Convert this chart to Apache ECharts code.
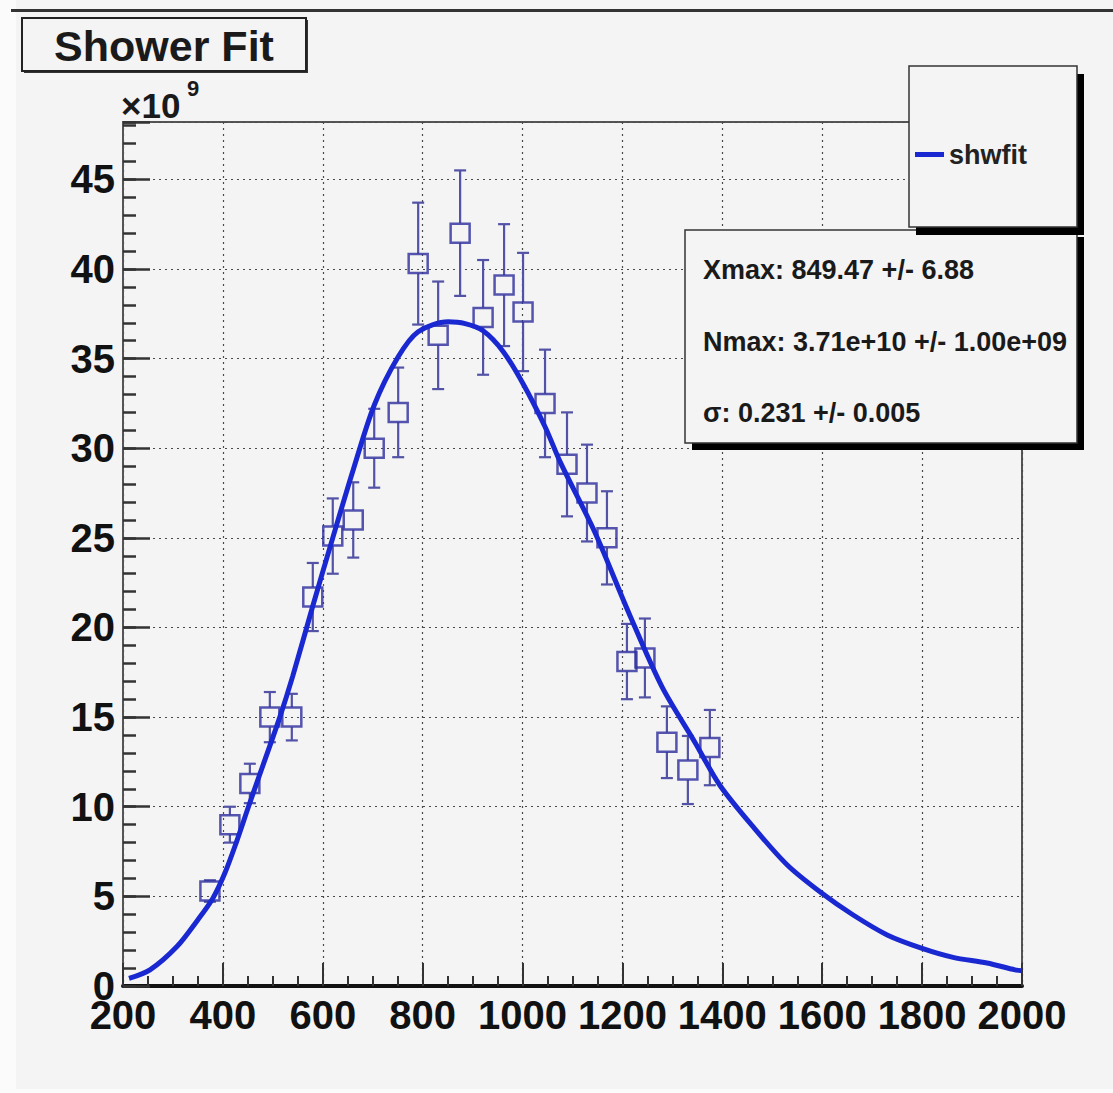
<!DOCTYPE html>
<html><head><meta charset="utf-8">
<script src="https://cdn.jsdelivr.net/npm/echarts@6/dist/echarts.min.js"></script>
<style>html,body{margin:0;padding:0;background:#fbfbfb;}#c{width:1113px;height:1093px;}</style>
</head><body><div id="c"></div>
<script>
// ---- data ----
const obsX   = [374, 414, 454, 494, 538, 580, 620, 661, 703, 751, 791, 831, 875, 921, 963, 1001, 1045, 1089, 1129, 1169, 1209, 1245, 1289, 1331, 1375];
const obsY   = [5.3, 9.0, 11.3, 15.0, 15.0, 21.7, 25.1, 26.0, 30.0, 32.0, 40.3, 36.3, 42.0, 37.3, 39.1, 37.6, 32.5, 29.1, 27.5, 25.0, 18.1, 18.3, 13.6, 12.05, 13.3];
const obsErr = [0.6, 1.0, 1.1, 1.4, 1.3, 1.9, 2.1, 2.1, 2.2, 2.5, 3.4, 3.0, 3.5, 3.2, 3.4, 3.3, 3.0, 2.9, 2.7, 2.6, 2.1, 2.2, 2.0, 1.9, 2.1];
const fitX = [212, 254, 308, 350, 380, 404, 428, 450, 470, 514, 540, 580, 620, 661, 703, 751, 791, 851, 885, 921, 961, 1001, 1045, 1076, 1145, 1213, 1279, 1345, 1395, 1461, 1530, 1598, 1662, 1730, 1800, 1862, 1930, 1986, 2000];
const fitY = [0.42, 0.9, 2.2, 3.7, 4.9, 6.3, 8.1, 9.9, 11.5, 15.0, 17.3, 21.2, 25.0, 28.8, 32.4, 35.1, 36.5, 37.05, 36.95, 36.55, 35.4, 33.6, 31.2, 29.2, 25.3, 20.8, 16.7, 13.6, 11.2, 8.9, 6.75, 5.2, 3.96, 2.85, 2.1, 1.6, 1.28, 0.9, 0.85];
const xTickValues = [200, 400, 600, 800, 1000, 1200, 1400, 1600, 1800, 2000];
const yTickValues = [0, 5, 10, 15, 20, 25, 30, 35, 40, 45];
const titleText = 'Shower Fit';
const fitName = 'shwfit';
const statsLines = ['Xmax: 849.47 +/- 6.88', 'Nmax: 3.71e+10 +/- 1.00e+09', 'σ: 0.231 +/- 0.005'];
const yScaleText = '×10';
const yScaleExp = '9';

// ---- chart ----
const FONT = "'Liberation Sans', Arial, Helvetica, sans-serif";
const BG = '#f4f4f4';
const chart = echarts.init(document.getElementById('c'), null, {renderer: 'svg'});
const pts = obsX.map((x, i) => [x, obsY[i], obsErr[i]]);
const fit = fitX.map((x, i) => [x, fitY[i]]);

function txt(x, y, text, font, align, valign, fill) {
  return {type: 'text', x: x, y: y, z: 120, silent: true,
    style: {text: text, font: font, fill: fill || '#1a1a1a',
      textAlign: align, textVerticalAlign: valign, align: align, verticalAlign: valign}};
}
function rect(x, y, w, h, fill, stroke, lw, z) {
  return {type: 'rect', z: z, silent: true, shape: {x: x, y: y, width: w, height: h},
    style: {fill: fill, stroke: stroke || null, lineWidth: lw || 0}};
}

const option = {
  backgroundColor: BG,
  animation: false,
  grid: {left: 123, right: 91, top: 122, bottom: 107, show: true, borderColor: '#555', borderWidth: 2, backgroundColor: 'transparent'},
  xAxis: {
    type: 'value', min: 200, max: 2000, interval: 200,
    axisLine: {onZero: false, lineStyle: {color: '#111', width: 4}},
    axisTick: {inside: true, length: 23, lineStyle: {color: '#333', width: 2}},
    minorTick: {show: true, splitNumber: 4, length: 10, lineStyle: {color: '#333', width: 2}},
    axisLabel: {fontSize: 40, fontWeight: 'bold', color: '#111', fontFamily: FONT, margin: 9,
      formatter: v => xTickValues.indexOf(v) >= 0 ? String(v) : ''},
    splitLine: {show: true, lineStyle: {color: '#4a4a4a', type: [2, 4], width: 1.2}}
  },
  yAxis: [{
    type: 'value', min: 0, max: 48.2, interval: 5,
    axisLine: {lineStyle: {color: '#555', width: 2}},
    axisTick: {inside: true, length: 27, lineStyle: {color: '#333', width: 2.5}},
    axisLabel: {fontSize: 40, fontWeight: 'bold', color: '#111', fontFamily: FONT, margin: 8, padding: [18, 0, 0, 0],
      formatter: v => yTickValues.indexOf(v) >= 0 ? String(v) : ''},
    splitLine: {show: true, lineStyle: {color: '#4a4a4a', type: [2, 4], width: 1.2}}
  }, {
    type: 'value', min: 0, max: 48.2, interval: 1, position: 'left',
    axisLine: {show: false},
    axisTick: {inside: true, length: 13, lineStyle: {color: '#333', width: 2.5}},
    axisLabel: {show: false}, splitLine: {show: false}
  }],
  legend: {
    data: [{name: fitName, icon: 'rect'}], left: 910, top: 136, itemWidth: 29, itemHeight: 5, itemGap: 0,
    selectedMode: false, z: 200,
    textStyle: {fontSize: 27, fontWeight: 'bold', color: '#222', fontFamily: FONT}
  },
  series: [{
    type: 'custom', name: 'errors', data: pts, z: 2, silent: true, encode: {x: 0, y: 1},
    renderItem: (params, api) => {
      const x = api.value(0), y = api.value(1), e = api.value(2);
      const c = api.coord([x, y]), hi = api.coord([x, y + e]), lo = api.coord([x, y - e]);
      const h = 10, cap = 6, st = {stroke: '#5252a6', lineWidth: 2.2};
      const ch = [];
      if (c[1] - h > hi[1]) ch.push({type: 'line', shape: {x1: c[0], y1: c[1] - h, x2: c[0], y2: hi[1]}, style: st});
      if (c[1] + h < lo[1]) ch.push({type: 'line', shape: {x1: c[0], y1: c[1] + h, x2: c[0], y2: lo[1]}, style: st});
      ch.push({type: 'line', shape: {x1: c[0] - cap, y1: hi[1], x2: c[0] + cap, y2: hi[1]}, style: st});
      ch.push({type: 'line', shape: {x1: c[0] - cap, y1: lo[1], x2: c[0] + cap, y2: lo[1]}, style: st});
      return {type: 'group', children: ch};
    }
  }, {
    type: 'scatter', name: 'data', data: pts, z: 3, symbol: 'rect', symbolSize: 19, silent: true,
    itemStyle: {color: 'rgba(0,0,0,0)', borderColor: '#2c2c9e', borderWidth: 2.5}
  }, {
    type: 'line', name: fitName, data: fit, z: 4, smooth: 0.3, showSymbol: false, silent: true,
    lineStyle: {color: '#1a28d2', width: 5}, itemStyle: {color: '#1a28d2'}
  }],
  graphic: [
    rect(0, 0, 16, 1093, '#fbfbfb', null, 0, 90),
    rect(16, 1089, 1097, 4, '#fbfbfb', null, 0, 90),
    rect(11, 9, 1102, 3, '#333', null, 0, 100),
    // title box
    rect(24, 20, 284, 53, '#333', null, 0, 100),
    rect(22, 18, 284, 53, BG, '#222', 2, 101),
    txt(164, 46, titleText, 'bold 43px ' + FONT, 'center', 'middle'),
    // stats box
    rect(692, 237, 392, 213, '#000', null, 0, 102),
    rect(685, 230, 392, 213, BG, '#333', 1.5, 103),
    txt(703, 270, statsLines[0], 'bold 27px ' + FONT, 'left', 'middle'),
    txt(703, 342, statsLines[1], 'bold 27px ' + FONT, 'left', 'middle'),
    txt(703, 413, statsLines[2], 'bold 27px ' + FONT, 'left', 'middle'),
    // legend box
    rect(916, 74, 168, 161, '#000', null, 0, 104),
    rect(909, 66, 168, 161, BG, '#333', 1.5, 105),
    // y scale factor
    txt(121, 105, yScaleText, 'bold 35px ' + FONT, 'left', 'middle'),
    txt(187, 88, yScaleExp, 'bold 22px ' + FONT, 'left', 'middle')
  ]
};
chart.setOption(option);
</script>
</body></html>
